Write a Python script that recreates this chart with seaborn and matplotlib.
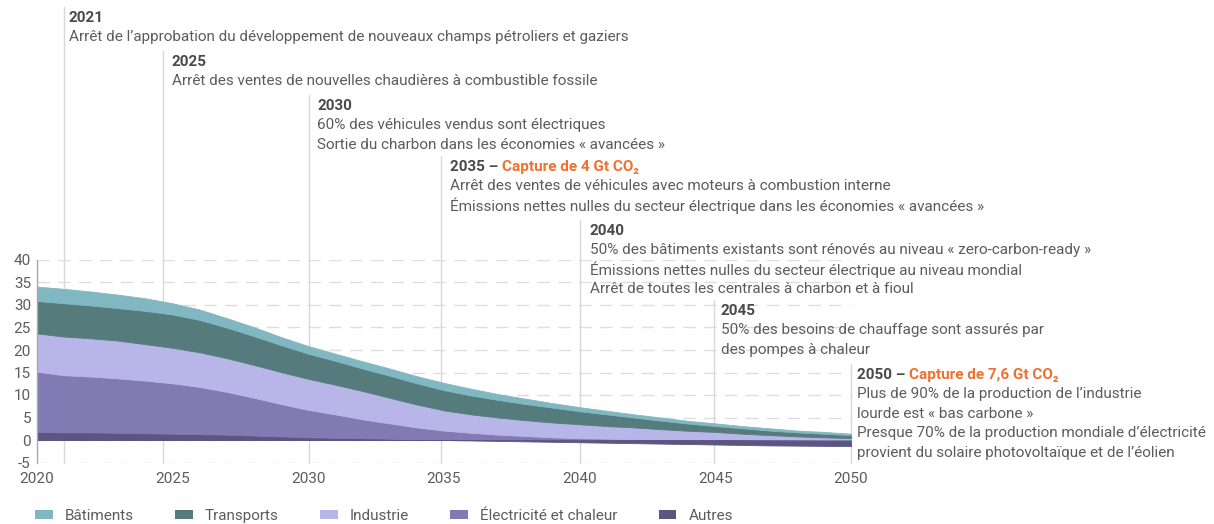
import numpy as np
import matplotlib
matplotlib.use("Agg")
import matplotlib.pyplot as plt
import seaborn as sns
from matplotlib.patches import Patch

# ---------------- data ----------------
years = list(range(2020, 2051))
batiments = [3.2, 3.2, 3.1, 3.0, 2.8, 2.5, 2.3, 2.1, 2.0, 1.8, 1.7, 1.6, 1.6, 1.6, 1.6, 1.6,
             1.5, 1.3, 1.2, 1.0, 0.9, 0.8, 0.7, 0.7, 0.6, 0.6, 0.5, 0.5, 0.4, 0.4, 0.3]
transports = [7.2, 7.4, 7.3, 7.2, 7.4, 7.4, 7.2, 6.8, 6.4, 6.0, 5.6, 5.3, 5.0, 4.9, 4.7, 4.5,
              4.2, 3.9, 3.6, 3.3, 2.9, 2.6, 2.2, 1.9, 1.6, 1.3, 1.2, 1.0, 0.9, 0.8, 0.7]
industrie = [8.5, 8.6, 8.5, 8.4, 8.1, 7.9, 7.7, 7.5, 7.3, 7.1, 6.9, 6.6, 6.3, 5.7, 5.1, 4.5,
             4.1, 3.8, 3.5, 3.3, 3.1, 2.8, 2.6, 2.3, 2.0, 1.8, 1.4, 1.1, 0.8, 0.6, 0.4]
electricite = [13.4, 12.7, 12.4, 12.1, 11.7, 11.2, 10.5, 9.5, 8.4, 7.2, 6.1, 5.2, 4.2, 3.4, 2.7, 2.1,
               1.6, 1.2, 0.9, 0.6, 0.4, 0.3, 0.2, 0.1, 0.05, 0.0, -0.05, -0.1, -0.15, -0.2, -0.25]
autres = [1.8, 1.7, 1.7, 1.6, 1.5, 1.4, 1.3, 1.2, 1.0, 0.8, 0.6, 0.5, 0.4, 0.3, 0.1, 0.0,
          -0.1, -0.2, -0.3, -0.4, -0.5, -0.6, -0.7, -0.8, -0.9, -1.0, -1.05, -1.1, -1.1, -1.1, -1.1]

series_names = ["Bâtiments", "Transports", "Industrie", "Électricité et chaleur", "Autres"]
series_values = [batiments, transports, industrie, electricite, autres]
series_colors = ["#80b7c1", "#557b7c", "#b8b6e8", "#817ab3", "#5b5680"]

x_ticks = [2020, 2025, 2030, 2035, 2040, 2045, 2050]
y_ticks = [-5, 0, 5, 10, 15, 20, 25, 30, 35, 40]

ann_heads = ["2021", "2025", "2030", "2035 – ", "2040", "2045", "2050 – "]
ann_capture = ["", "", "", "Capture de 4 Gt CO₂", "", "", "Capture de 7,6 Gt CO₂"]
ann_lines = [
    ["Arrêt de l’approbation du développement de nouveaux champs pétroliers et gaziers"],
    ["Arrêt des ventes de nouvelles chaudières à combustible fossile"],
    ["60% des véhicules vendus sont électriques",
     "Sortie du charbon dans les économies « avancées »"],
    ["Arrêt des ventes de véhicules avec moteurs à combustion interne",
     "Émissions nettes nulles du secteur électrique dans les économies « avancées »"],
    ["50% des bâtiments existants sont rénovés au niveau « zero-carbon-ready »",
     "Émissions nettes nulles du secteur électrique au niveau mondial",
     "Arrêt de toutes les centrales à charbon et à fioul"],
    ["50% des besoins de chauffage sont assurés par",
     "des pompes à chaleur"],
    ["Plus de 90% de la production de l’industrie",
     "lourde est « bas carbone »",
     "Presque 70% de la production mondiale d’électricité",
     "provient du solaire photovoltaïque et de l’éolien"],
]

# layout of annotations (positions only)
ann_x = [2021.0, 2024.65, 2030.05, 2034.9, 2040.0, 2044.95, 2050.0]
ann_head_px = [18, 62, 106, 167, 231, 311, 375]      # pixel row of heading centre
ann_dx = [5, 9, 8, 9, 10, 7, 6]                        # pixel offset of text from line

# ---------------- style ----------------
sns.set_theme(style="white")
plt.rcParams["font.family"] = ["Roboto", "DejaVu Sans"]
TXT = "#5c5c5c"
HEAD = "#4a4a4a"
ORANGE = "#f0702f"
GRID = "#dedede"
VLINE = "#d8d8d8"
FS = 11

W, H = 1214, 524
fig = plt.figure(figsize=(W / 100, H / 100), dpi=100)
ax_left, ax_right, ax_top, ax_bottom = 36.5, 851.0, 260.0, 462.5
ax = fig.add_axes([ax_left / W, (H - ax_bottom) / H,
                   (ax_right - ax_left) / W, (ax_bottom - ax_top) / H])
ax.set_xlim(2020, 2050)
ax.set_ylim(-5, 40)
px_per_unit = (ax_bottom - ax_top) / 45.0


def px_to_val(py):
    return 40 - (py - ax_top) / px_per_unit


# grid
for yt in y_ticks:
    ax.axhline(yt, color=GRID, lw=1.0, ls=(0, (9, 6)), zorder=0)

# annotation lines
for xv, hp in zip(ann_x, ann_head_px):
    ax.plot([xv, xv], [-5, px_to_val(hp - 11)], color=VLINE, lw=1.0,
            clip_on=False, zorder=1)

# stacked areas (positive up, negative down)
x = np.array(years, dtype=float)
vals = [np.array(v, dtype=float) for v in series_values]
pos_order = [4, 3, 2, 1, 0]
base = np.zeros_like(x)
for i in pos_order:
    p = np.clip(vals[i], 0, None)
    ax.fill_between(x, base, base + p, color=series_colors[i], lw=0.6,
                    edgecolor=series_colors[i], zorder=2)
    base = base + p
neg_order = [0, 1, 2, 3, 4]
base = np.zeros_like(x)
for i in neg_order:
    n = np.clip(vals[i], None, 0)
    if np.any(n < 0):
        ax.fill_between(x, base, base + n, color=series_colors[i], lw=0.6,
                        edgecolor=series_colors[i], zorder=2)
    base = base + n

# axes styling
sns.despine(ax=ax, left=False, bottom=True, top=True, right=True)
ax.spines["left"].set_color("#a8a8a8")
ax.spines["left"].set_linewidth(1.0)
ax.set_xticks(x_ticks)
ax.set_yticks(y_ticks)
ax.set_xticklabels([str(t) for t in x_ticks])
ax.set_yticklabels([str(t) for t in y_ticks])
ax.tick_params(axis="both", length=0, labelsize=FS, labelcolor=TXT)
ax.tick_params(axis="y", pad=4)
ax.tick_params(axis="x", pad=7)
ax.grid(False)
ax.patch.set_alpha(0)

# annotations
line_h = 19.4
for k in range(len(ann_heads)):
    xv = ann_x[k]
    yh = px_to_val(ann_head_px[k])
    head = ax.annotate(ann_heads[k], xy=(xv, yh), xycoords="data",
                       xytext=(ann_dx[k], 0), textcoords="offset pixels",
                       ha="left", va="center", fontsize=FS, fontweight="bold",
                       color=HEAD, annotation_clip=False)
    if ann_capture[k]:
        ax.annotate(ann_capture[k], xy=(1, 0.5), xycoords=head,
                    ha="left", va="center", fontsize=FS, fontweight="bold",
                    color=ORANGE, annotation_clip=False)
    for j, line in enumerate(ann_lines[k]):
        yl = px_to_val(ann_head_px[k] + line_h * (j + 1))
        ax.annotate(line, xy=(xv, yl), xycoords="data",
                    xytext=(ann_dx[k], 0), textcoords="offset pixels",
                    ha="left", va="center", fontsize=FS, color=TXT,
                    annotation_clip=False)

# legend
handles = [Patch(facecolor=c, edgecolor="none") for c in series_colors]
fig.legend(handles, series_names, loc="center left",
           bbox_to_anchor=(35 / W, 8 / H), ncol=5, frameon=False,
           fontsize=FS, labelcolor=TXT, handlelength=1.15, handleheight=0.6,
           handletextpad=0.8, columnspacing=2.7, borderpad=0, borderaxespad=0)

fig.savefig("out.png", dpi=100)
